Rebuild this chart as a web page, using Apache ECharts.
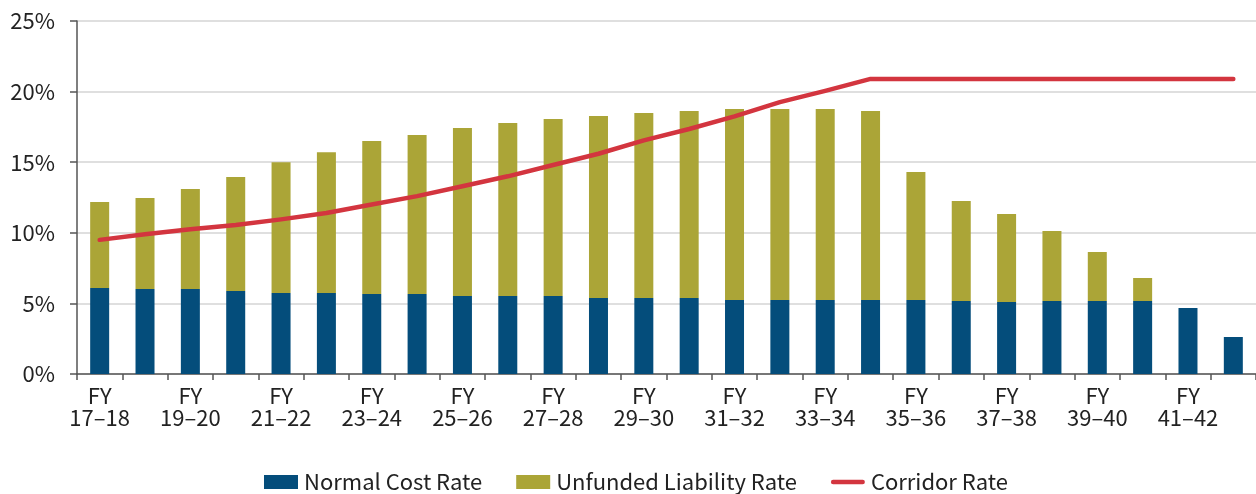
<!DOCTYPE html>
<html>
<head>
<meta charset="utf-8">
<script src="https://cdn.jsdelivr.net/npm/echarts@6/dist/echarts.min.js"></script>
<style>
  html, body { margin: 0; padding: 0; background: #fff; }
  #chart { width: 1256px; height: 494px; }
</style>
</head>
<body>
<div id="chart"></div>
<script>
var years = ['17–18','18–19','19–20','20–21','21–22','22–23','23–24','24–25','25–26','26–27',
             '27–28','28–29','29–30','30–31','31–32','32–33','33–34','34–35','35–36','36–37',
             '37–38','38–39','39–40','40–41','41–42','42–43'];
var normalCost = [6.09,6.02,6.02,5.88,5.74,5.74,5.67,5.67,5.52,5.52,5.52,5.38,5.38,5.38,5.24,5.24,
                  5.24,5.24,5.24,5.17,5.10,5.17,5.17,5.17,4.67,2.62];
var unfunded   = [6.09,6.44,7.08,8.07,9.26,9.96,10.83,11.26,11.90,12.26,12.54,12.89,13.10,13.25,13.53,13.53,
                  13.53,13.39,9.07,7.08,6.23,4.96,3.47,1.63,0,0];
var corridor   = [9.5,9.9,10.25,10.55,10.95,11.4,12.0,12.6,13.3,14.0,14.8,15.6,16.55,17.35,18.25,19.25,
                  20.05,20.9,20.9,20.9,20.9,20.9,20.9,20.9,20.9,20.9];
var yTicks = [0,5,10,15,20,25];

var font = '"Noto Sans CJK SC", "Noto Sans", sans-serif';
var categories = years.map(function (y) { return 'FY\n' + y; });

var chart = echarts.init(document.getElementById('chart'));
var option = {
    animation: false,
    textStyle: { fontFamily: font },
    grid: { left: 77, right: 0, top: 21, bottom: 120, containLabel: false },
    legend: {
        top: 466,
        left: 259,
        itemWidth: 34,
        itemHeight: 14,
        itemGap: 34,
        textStyle: { fontFamily: font, fontSize: 22, color: '#222', padding: [0, 0, 0, 1] },
        data: [
            { name: 'Normal Cost Rate', icon: 'rect' },
            { name: 'Unfunded Liability Rate', icon: 'rect' },
            { name: 'Corridor Rate', icon: 'path://M2.5,0 L35.5,0 A2.5,2.5 0 0 1 35.5,5 L2.5,5 A2.5,2.5 0 0 1 2.5,0 Z' }
        ]
    },
    xAxis: {
        type: 'category',
        data: categories,
        axisLine: { show: true, lineStyle: { color: '#555', width: 1.5 } },
        axisTick: { show: true, interval: 0, length: 6, lineStyle: { color: '#555', width: 1.5 } },
        axisLabel: {
            interval: 1,
            margin: 11,
            fontFamily: font,
            fontSize: 22,
            lineHeight: 22,
            color: '#222'
        },
        splitLine: { show: false }
    },
    yAxis: {
        type: 'value',
        min: yTicks[0],
        max: yTicks[yTicks.length - 1],
        interval: 5,
        axisLine: { show: true, lineStyle: { color: '#555', width: 1.5 } },
        axisTick: { show: true, length: 7, lineStyle: { color: '#555', width: 1.5 } },
        axisLabel: {
            formatter: '{value}%',
            margin: 22,
            fontFamily: font,
            fontSize: 22,
            color: '#222'
        },
        splitLine: { show: true, lineStyle: { color: '#d4d4d4', width: 1.5 } }
    },
    series: [
        {
            name: 'Normal Cost Rate',
            type: 'bar',
            stack: 'rate',
            barWidth: 19,
            itemStyle: { color: '#044D7B' },
            data: normalCost
        },
        {
            name: 'Unfunded Liability Rate',
            type: 'bar',
            stack: 'rate',
            barWidth: 19,
            itemStyle: { color: '#ABA537' },
            data: unfunded
        },
        {
            name: 'Corridor Rate',
            type: 'line',
            symbol: 'none',
            showSymbol: false,
            itemStyle: { color: '#D3353F' },
            lineStyle: { color: '#D3353F', width: 4.5, cap: 'round', join: 'round' },
            data: corridor,
            z: 5
        }
    ]
};
chart.setOption(option);
</script>
</body>
</html>
